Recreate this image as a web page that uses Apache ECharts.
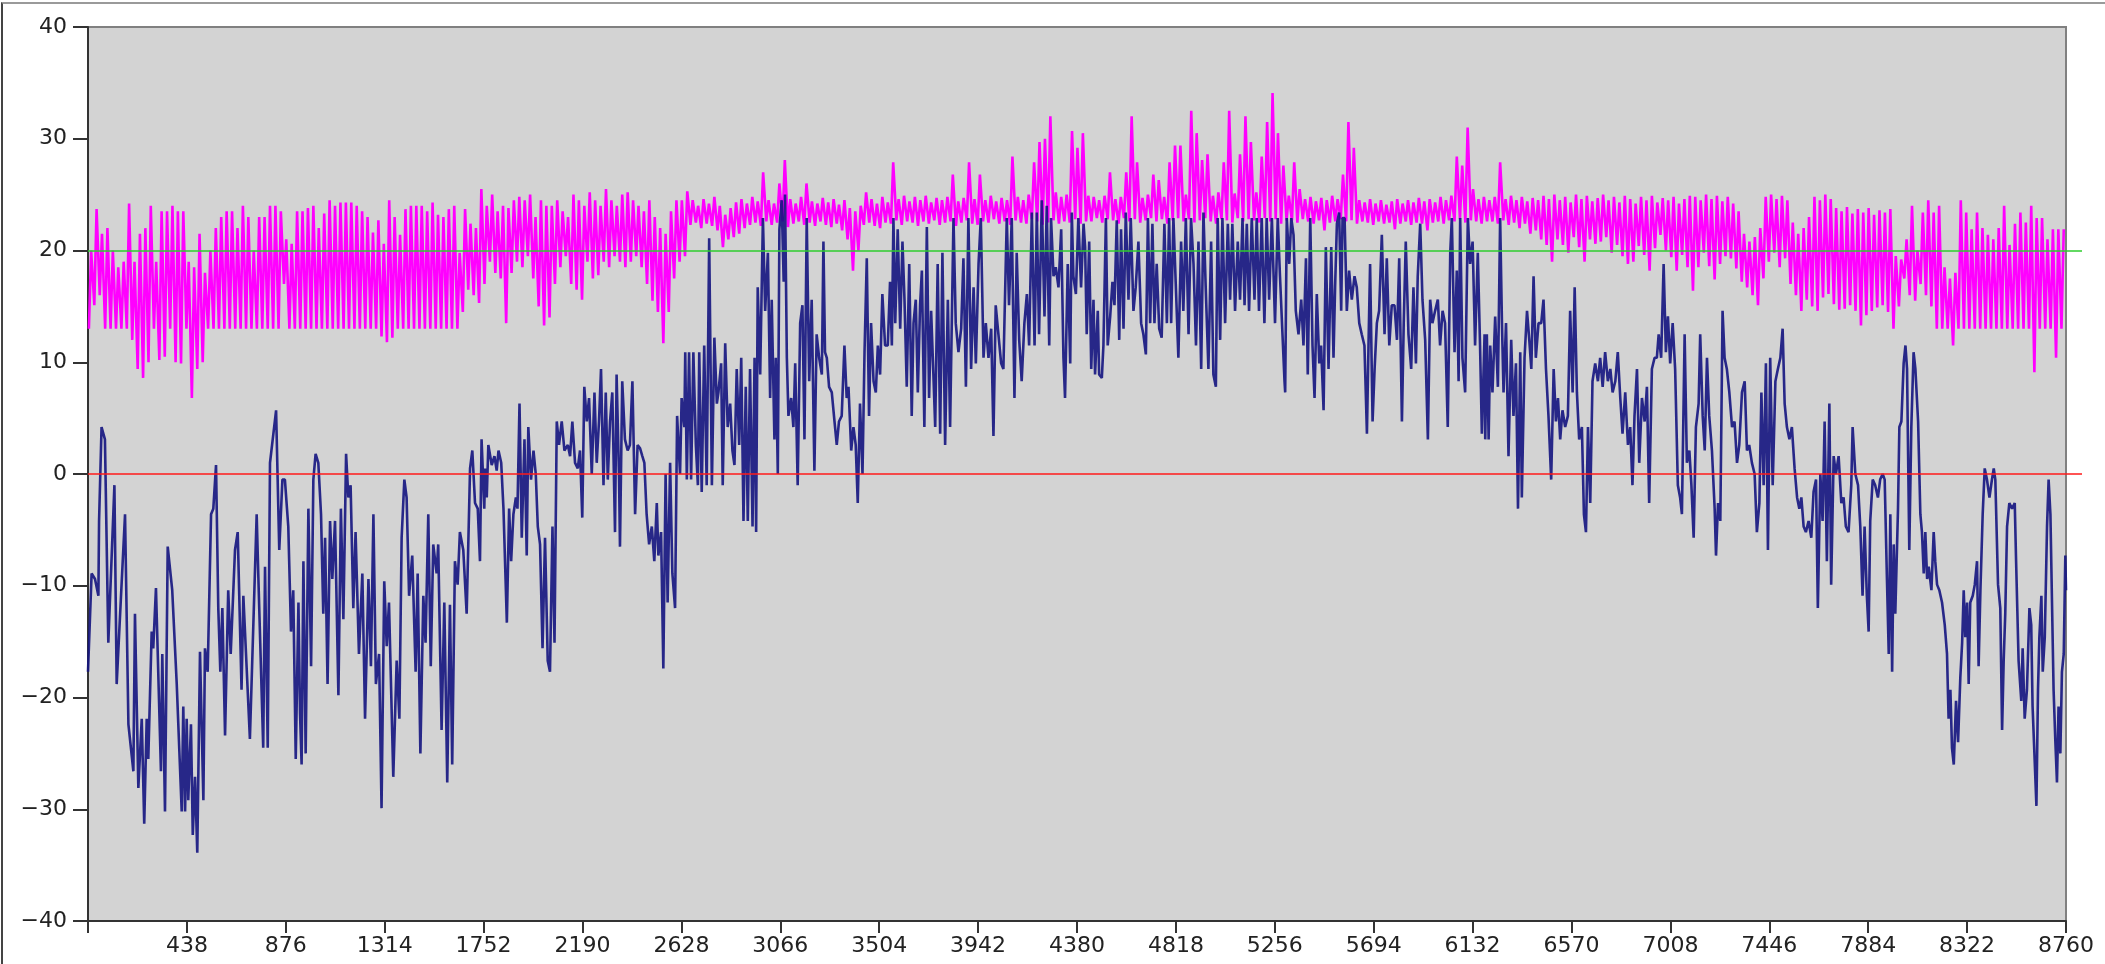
<!DOCTYPE html>
<html>
<head>
<meta charset="utf-8">
<script src="https://cdn.jsdelivr.net/npm/echarts@6/dist/echarts.min.js"></script>
<style>
  html, body { margin: 0; padding: 0; background: #fff; }
  #chart { width: 2105px; height: 964px; }
  #frame {
    position: absolute; top: 2px; left: 1px; right: 0; bottom: 0;
    border-top: 2px solid #9a9a9a; border-left: 2px solid #444;
    pointer-events: none;
  }
</style>
</head>
<body>
<div id="chart"></div>
<div id="frame"></div>
<script>
// hour of year, outdoor temperature (navy line) in pieces
const outdoorJan = [[0,-17.7],[16,-8.9],[31,-9.4],[46,-10.9],[49,-4.2],[60,4.2],[75,3.1],[90,-15.1],[117,-1.0],[127,-18.8],[164,-3.6],[179,-22.4],[201,-26.6],[208,-12.5],[223,-28.1],[238,-21.9],[249,-31.3],[260,-21.9],[267,-25.5],[282,-14.1],[289,-15.6],[301,-10.2],[323,-26.6],[329,-16.1],[341,-30.2],[353,-6.5],[373,-10.4],[393,-18.8],[415,-30.2],[422,-20.8],[430,-30.2],[437,-21.9],[444,-29.2],[456,-22.4],[464,-32.3],[474,-27.1],[484,-33.9],[496,-15.9],[511,-29.2],[518,-15.6],[530,-17.7],[545,-3.6],[555,-3.1],[567,0.8],[577,-12.0],[586,-17.7],[595,-12.0],[607,-23.4],[621,-10.4],[632,-16.1],[651,-6.8],[663,-5.2],[680,-19.3],[688,-10.9],[717,-23.7],[747,-3.6],[754,-8.9],[776,-24.5],[784,-8.3],[796,-24.5],[806,1.0],[833,5.7],[847,-6.8],[861,-0.5]];
const outdoorFeb = [[872,-0.5],[887,-4.7],[899,-14.1],[909,-10.4],[920,-25.5],[932,-11.5],[939,-21.4],[946,-26.0],[954,-7.8],[964,-25.0],[976,-3.1],[988,-17.2],[998,-0.5],[1008,1.8],[1020,1.0],[1032,-3.6],[1042,-12.5],[1050,-5.7],[1061,-18.8],[1072,-4.2],[1082,-9.4],[1094,-4.2],[1109,-19.8],[1120,-3.1],[1131,-13.0],[1143,1.8],[1153,-2.1],[1163,-1.0],[1175,-12.0],[1185,-5.2],[1200,-16.1],[1215,-8.9],[1227,-21.9],[1242,-9.4],[1253,-17.2],[1264,-3.6],[1275,-18.8],[1289,-16.1],[1300,-29.9],[1312,-9.6],[1323,-15.4],[1333,-11.5],[1352,-27.1],[1367,-16.7],[1379,-21.9],[1389,-5.7],[1401,-0.5],[1411,-2.1],[1422,-10.9],[1436,-7.3],[1451,-17.7],[1460,-8.9],[1472,-25.0],[1485,-10.9],[1495,-15.1],[1507,-3.6],[1518,-17.2],[1529,-6.3],[1544,-8.9],[1551,-6.3],[1566,-22.9],[1578,-11.5],[1591,-27.6],[1603,-11.7],[1613,-26.0],[1625,-7.8],[1637,-9.9],[1647,-5.2],[1662,-6.8],[1677,-12.5],[1692,0.5],[1702,2.1],[1714,-2.6],[1726,-3.1],[1736,-7.8],[1743,3.1],[1755,-3.1]];
const outdoorMar = [[1759,0.5],[1766,-2.1],[1773,2.6],[1788,0.8],[1800,1.6],[1810,0.3],[1818,2.1],[1830,1.0],[1840,-3.1],[1855,-13.3],[1865,-3.1],[1874,-7.8],[1884,-3.6],[1895,-2.1],[1902,-3.1],[1911,6.3],[1921,-5.7],[1933,3.1],[1943,-7.3],[1950,4.2],[1962,-0.5],[1973,2.1],[1983,0],[1992,-4.7],[2002,-6.3],[2013,-15.6],[2024,-5.7],[2036,-16.7],[2046,-17.7],[2057,-4.7],[2066,-15.1],[2076,4.7],[2086,2.6],[2098,4.7],[2110,2.1],[2125,2.6],[2135,1.6],[2145,4.7],[2157,1.0],[2169,0.5],[2179,2.1],[2189,-3.9],[2198,7.8],[2209,4.7],[2219,6.8],[2231,0],[2243,7.3],[2253,1.0],[2263,4.7],[2272,9.4],[2283,-1.0],[2293,7.3],[2302,-0.5],[2312,4.7],[2322,7.3],[2334,-5.2],[2341,8.9],[2352,-0.5],[2356,-6.5],[2366,8.3],[2378,3.1],[2390,2.1],[2400,2.6],[2411,8.3],[2423,-3.6],[2434,2.6],[2445,2.3],[2455,1.6],[2464,1.0],[2474,-3.6],[2485,-6.3],[2497,-4.7],[2508,-7.8],[2519,-2.6],[2526,-7.3],[2538,-5.2],[2548,-17.4],[2558,0],[2567,-11.5],[2578,1.0],[2588,-8.9],[2600,-12.0],[2609,5.2],[2622,0],[2629,6.8],[2641,4.2]];
const outdoorApr = [[2645,10.9],[2652,-0.5],[2662,10.9],[2671,-0.5],[2681,10.9],[2692,2.6],[2701,-1.0],[2707,10.9],[2718,-1.6],[2729,11.5],[2740,-1.0],[2751,21.1],[2763,-1.0],[2774,12.2],[2785,6.3],[2792,7.3],[2804,9.9],[2811,-1.0],[2822,11.7],[2833,4.2],[2844,6.3],[2854,2.1],[2863,0.8],[2873,9.4],[2884,2.6],[2893,10.4],[2903,-4.2],[2913,7.8],[2922,-4.2],[2932,9.4],[2943,-4.7],[2952,10.4],[2959,-5.2],[2966,16.7],[2977,8.9],[2989,22.9],[2999,14.6],[3011,19.8],[3021,6.8],[3028,15.6],[3040,3.1],[3046,10.4],[3055,0],[3062,21.9],[3072,24.5],[3081,17.2],[3087,25],[3095,10.4],[3102,5.2],[3114,6.8],[3124,4.2],[3132,9.9],[3143,-1.0],[3154,13.5],[3164,15.1],[3173,3.1],[3183,22.9],[3194,8.3],[3205,15.6],[3217,0.3],[3227,12.5],[3238,10.4],[3250,8.9],[3257,20.8],[3264,10.9],[3272,10.4],[3282,7.8],[3294,7.3],[3306,4.7],[3316,2.6],[3326,4.7],[3338,5.2],[3350,11.5],[3360,6.8],[3368,7.8],[3380,2.1],[3390,4.2],[3400,2.6],[3409,-2.6],[3419,6.3],[3430,0],[3439,10.9],[3449,19.3],[3459,5.2],[3468,13.5],[3479,8.3],[3489,7.3],[3498,11.5],[3508,8.9],[3518,16.1]];
const outdoorMay = [[3530,11.5],[3542,11.5],[3552,17.2],[3560,11.5],[3567,22.9],[3575,13.5],[3586,21.9],[3597,13.0],[3607,20.8],[3616,15.6],[3626,7.8],[3637,18.8],[3648,5.2],[3656,13.5],[3666,15.6],[3675,7.3],[3685,15.1],[3693,18.2],[3704,4.2],[3715,22.1],[3725,6.8],[3734,14.6],[3744,8.9],[3752,4.2],[3763,18.8],[3774,3.6],[3784,19.8],[3796,2.6],[3808,15.6],[3818,4.2],[3833,22.9],[3843,13.5],[3855,10.9],[3867,13.0],[3877,19.3],[3888,7.8],[3899,22.9],[3911,9.4],[3922,16.7],[3932,9.9],[3944,18.8],[3954,22.9],[3966,10.4],[3976,13.5],[3988,10.4],[4000,13.0],[4010,3.4],[4020,15.1],[4032,12.5],[4044,9.9],[4054,9.4],[4069,22.9],[4079,15.1],[4091,22.9],[4103,6.8],[4113,19.8],[4124,12.0],[4135,8.3],[4147,13.5],[4158,16.1],[4168,11.5],[4180,23.4],[4192,11.5],[4202,23.4],[4212,12.5],[4224,24.5],[4236,14.1],[4246,24.0],[4257,11.5],[4265,22.9],[4276,17.7],[4286,18.5],[4298,16.7],[4310,21.9],[4320,10.4],[4327,6.8],[4339,18.8],[4350,9.9],[4357,23.4],[4364,17.7],[4375,16.1],[4386,22.9],[4398,16.7],[4409,22.4]];
const outdoorJun = [[4416,20.3],[4423,12.5],[4434,20.8],[4443,9.4],[4453,15.6],[4460,8.9],[4472,14.6],[4478,8.9],[4490,8.6],[4497,11.5],[4508,22.9],[4516,11.5],[4527,14.1],[4537,17.2],[4546,15.1],[4556,22.7],[4567,12.0],[4575,21.9],[4586,13.0],[4596,23.4],[4608,15.6],[4618,22.9],[4630,14.6],[4640,16.7],[4652,20.8],[4664,13.5],[4674,12.5],[4685,10.7],[4694,22.9],[4704,13.5],[4714,22.4],[4723,13.5],[4733,18.8],[4744,13.0],[4755,12.2],[4767,22.4],[4778,13.5],[4788,22.9],[4797,13.5],[4807,22.9],[4817,17.2],[4829,10.4],[4841,20.8],[4851,14.6],[4862,22.9],[4874,12.5],[4885,22.9],[4896,18.8],[4907,11.5],[4918,20.8],[4930,9.4],[4940,23.4],[4950,16.7],[4962,9.4],[4974,20.8],[4984,8.9],[4995,7.8],[5003,22.9],[5014,12.0],[5024,22.9],[5036,13.5],[5048,22.4],[5058,15.6],[5068,22.4],[5080,14.6],[5092,20.8],[5102,15.6],[5113,22.9],[5122,15.1],[5132,22.4],[5142,14.6],[5154,22.9],[5166,15.6],[5176,22.9],[5186,14.6],[5198,22.9],[5210,13.5],[5220,22.9],[5231,15.6],[5243,22.9],[5257,13.5],[5269,22.9],[5279,17.7],[5290,12.5],[5299,8.3]];
const outdoorAug = [[5302,7.3],[5309,22.9],[5320,18.8],[5329,22.9],[5339,21.4],[5349,14.6],[5361,12.5],[5373,15.6],[5383,11.5],[5394,19.3],[5402,8.9],[5413,22.9],[5423,11.5],[5432,6.8],[5442,16.1],[5453,9.9],[5461,11.5],[5472,5.7],[5482,20.3],[5494,9.4],[5506,20.3],[5516,10.4],[5523,16.7],[5531,22.4],[5541,23.4],[5550,14.6],[5556,22.9],[5565,22.9],[5575,14.6],[5585,18.2],[5597,15.6],[5609,17.7],[5619,16.7],[5630,13.5],[5641,12.5],[5653,11.5],[5664,3.6],[5671,11.5],[5678,18.8],[5689,4.7],[5698,9.4],[5708,13.5],[5718,14.6],[5730,21.4],[5742,12.5],[5752,19.3],[5763,11.5],[5774,15.1],[5786,15.1],[5797,12.0],[5807,19.3],[5819,4.7],[5827,13.5],[5836,20.8],[5848,12.5],[5860,9.4],[5870,16.7],[5881,9.9],[5889,17.7],[5900,22.4],[5910,15.6],[5922,12.0],[5934,3.1],[5944,15.6],[5954,13.5],[5966,14.6],[5978,15.6],[5988,11.5],[5999,14.6],[6010,13.5],[6022,4.2],[6033,19.8],[6040,22.9],[6052,10.9],[6062,18.2],[6070,8.3],[6077,22.9],[6087,10.4],[6099,7.3],[6111,22.9],[6121,18.8],[6132,20.8],[6143,11.5],[6155,19.8],[6165,11.5],[6173,3.6],[6185,12.5]];
const outdoorSep = [[6188,3.1],[6195,12.5],[6203,3.1],[6210,11.5],[6220,7.3],[6232,14.1],[6244,7.8],[6254,22.9],[6262,13.5],[6269,7.3],[6280,13.5],[6291,1.6],[6303,12.0],[6313,5.2],[6324,9.9],[6333,-3.1],[6343,10.9],[6350,-2.1],[6362,10.4],[6373,14.6],[6383,12.0],[6392,9.4],[6402,17.7],[6412,10.4],[6424,13.5],[6436,13.5],[6446,15.6],[6457,9.4],[6468,5.2],[6480,-0.5],[6491,9.4],[6501,4.7],[6510,6.8],[6520,3.1],[6530,5.7],[6542,4.2],[6554,5.2],[6564,14.6],[6575,7.3],[6584,16.7],[6594,7.3],[6604,3.1],[6616,4.2],[6625,-3.6],[6634,-5.2],[6643,4.2],[6653,-2.6],[6663,8.3],[6675,9.9],[6687,8.3],[6697,10.4],[6708,7.8],[6719,10.9],[6731,8.3],[6742,9.4],[6752,7.3],[6764,8.3],[6775,10.9],[6786,6.8],[6796,3.6],[6808,7.3],[6820,2.6],[6830,4.2],[6840,-1.0],[6849,5.2],[6860,9.4],[6870,1.0],[6882,6.8],[6894,4.7],[6904,7.8],[6914,-2.6],[6926,9.4],[6938,10.4],[6948,10.4],[6956,12.5],[6967,10.4],[6978,18.8],[6988,10.9],[6997,14.1],[7007,9.9],[7018,13.5],[7029,9.4],[7041,-1.0],[7051,-2.1],[7059,-3.6],[7071,12.5]];
const outdoorNov = [[7081,1.0],[7092,2.1],[7101,-1.0],[7111,-5.7],[7121,4.2],[7133,6.3],[7140,12.5],[7151,5.2],[7160,2.1],[7170,10.4],[7180,5.2],[7192,2.1],[7204,-3.1],[7210,-7.3],[7219,-2.6],[7229,-4.2],[7239,14.6],[7248,10.4],[7258,9.4],[7269,7.3],[7281,4.2],[7292,4.7],[7303,1.0],[7313,2.6],[7325,7.3],[7337,8.3],[7347,2.1],[7357,2.6],[7369,1.0],[7381,0],[7391,-5.2],[7402,-2.6],[7411,7.3],[7421,-1.0],[7431,9.9],[7440,-6.8],[7450,10.4],[7461,-1.0],[7473,8.3],[7484,9.4],[7495,10.4],[7505,13.0],[7514,6.3],[7524,4.2],[7535,3.1],[7546,4.2],[7558,0.5],[7569,-2.1],[7579,-3.1],[7588,-2.1],[7598,-4.7],[7608,-5.2],[7620,-4.2],[7632,-5.7],[7642,-1.6],[7653,-0.5],[7661,-12.0],[7672,0],[7682,-4.2],[7691,4.7],[7701,-7.8],[7712,6.3],[7720,-9.9],[7731,1.6],[7741,0],[7753,1.6],[7765,-2.6],[7775,-2.1],[7785,-4.7],[7797,-5.2],[7809,-1.0],[7815,4.2],[7827,0],[7839,-1.0],[7849,-4.7],[7859,-10.9],[7868,-4.7],[7878,-10.9],[7886,-14.1],[7893,-4.2],[7904,-0.5],[7915,-1.0],[7927,-2.1],[7937,-0.5],[7948,0],[7957,-0.5]];
const outdoorDec = [[7967,-9.4],[7975,-16.1],[7982,-3.6],[7990,-17.7],[7997,-6.3],[8004,-12.5],[8016,-3.1],[8022,4.2],[8031,4.7],[8041,9.9],[8049,11.5],[8056,9.4],[8066,-6.8],[8075,4.2],[8085,10.9],[8093,9.4],[8105,4.7],[8115,-3.6],[8122,-5.2],[8130,-8.9],[8137,-5.2],[8145,-9.4],[8152,-8.3],[8164,-10.4],[8174,-5.2],[8181,-7.8],[8189,-9.9],[8199,-10.4],[8211,-11.5],[8223,-13.5],[8233,-16.1],[8240,-21.9],[8248,-19.3],[8255,-24.5],[8263,-26.0],[8273,-20.3],[8282,-24.0],[8292,-18.2],[8300,-15.1],[8307,-10.4],[8314,-14.6],[8322,-11.5],[8329,-18.8],[8336,-11.5],[8347,-10.9],[8356,-9.9],[8366,-7.8],[8373,-17.2],[8381,-10.4],[8391,-3.6],[8400,0.5],[8410,-0.5],[8421,-2.1],[8432,-0.5],[8440,0.5],[8447,-0.5],[8459,-9.9],[8469,-12.0],[8477,-22.9],[8484,-16.7],[8491,-12.5],[8499,-4.7],[8509,-2.6],[8521,-3.1],[8533,-2.6],[8539,-7.8],[8550,-16.7],[8562,-20.3],[8568,-15.6],[8577,-21.9],[8587,-19.3],[8598,-12.0],[8606,-13.5],[8612,-20.8],[8621,-25.5],[8629,-29.7],[8636,-19.3],[8642,-14.6],[8651,-10.9],[8657,-17.7],[8666,-14.6],[8676,-4.7],[8683,-0.5],[8691,-3.6],[8698,-11.5],[8705,-19.3],[8713,-24.0],[8720,-27.6],[8727,-20.8],[8735,-25.0],[8742,-17.7],[8750,-16.1],[8757,-7.3],[8760,-10.4]];

// indoor temperature (magenta line): daily peak and daily low, day 0..364
const indoorHigh = [
  20,23.7,21.5,22,20,18.5,19,24.2,19,21.5,22,24,19,23.5,23.5,24,23.5,23.5,19,18.5,21.5,18,20,22,23,23.5,23.5,22,24,23,20,23,23,24,24,23.5,21,
  20.6,23.5,23.5,23.8,24,22,23.3,24.5,24,24.3,24.3,24.3,24,23.5,23,21.6,22.7,20.6,24.5,23,21.4,23.7,24,24,24,23.5,24.3,23.2,23,23.7,24,19.8,23.7,22.4,22,25.5,24,
  25,23.5,24,23.8,24.5,24.8,24.5,25,23,24.5,24,24,24.5,23.5,23,25,24.5,24,25.2,24.5,24,25.5,24.5,24,25,25.2,24.5,24,23.5,24.5,23,22,21.5,23.5,24.5,24.5,25.3,
  24.5,24,24.6,24.2,24.8,24,23.2,23.8,24.3,24.6,24.2,24.8,24.4,27,24.5,24.2,26,28.1,24.6,24.2,24.8,26,24.4,24.2,24.7,24.3,24.6,24.1,24.5,23.8,23.5,24,25.2,24.6,24.2,24.8,24.3,
  27.9,24.6,24.9,24.4,24.8,24.5,24.9,24.3,24.7,24.5,24.8,26.8,24.4,24.7,27.9,24.6,26.8,24.5,24.9,24.4,24.7,24.5,28.4,24.8,24.5,25,27.9,29.7,30,32,25.2,24.8,25,30.7,29.2,30.5,24.9,
  24.8,24.5,24.9,27,24.6,24.8,27,32,27.9,24.7,25,26.8,26.3,24.8,27.9,29.4,29.4,25,32.5,30.5,28.1,28.6,24.9,25.2,27.9,32.5,25.1,28.6,32,29.7,25.2,28.4,31.5,34.1,30.5,27.6,24.9,
  27.9,25.5,24.6,24.8,24.4,24.7,24.5,24.9,24.6,26.8,31.5,29.2,24.5,24.3,24.6,24.2,24.5,24.1,24.4,24.6,24.2,24.5,24.3,24.7,24.4,24.6,24.3,24.8,24.5,24.9,28.4,27.6,31,25.5,24.6,24.8,24.5,
  24.8,27.9,24.6,24.9,24.5,24.8,24.4,24.7,24.5,24.9,24.6,25,24.5,24.8,24.3,25,24.6,24.9,24.4,24.7,25,24.5,24.8,24.3,24.9,24.6,24.2,24.8,24.5,24.9,24.3,24.7,24.5,24.8,24.2,24.6,24.9,
  24.8,24.5,25,24.6,24.9,24.4,24.8,24.2,23.5,21.5,20.8,21.2,22,24.8,25,24.6,24.9,24.5,22.5,21.5,22,23,24.8,24.5,25,24.6,23.8,23.5,23.9,23.3,23.7,23.4,23.8,23.2,23.6,23.4,23.7,
  19.5,19.2,21,24,20,23.4,24.5,23.4,24,18.5,17.5,18,24.5,23.4,21.9,23.4,22,21.4,21,22,24,20.5,22.4,23.4,22.5,24,22.9,22.9,21,21.9,21.9,21.9
];
const indoorLow = [
  13,15.1,16,13,13,13,13,13,12,9.4,8.6,10,13,10.2,10.5,13,10,9.9,13,6.8,9.4,10,13,13,13,13,13,13,13,13,13,13,13,13,13,13,17,
  13,13,13,13,13,13,13,13,13,13,13,13,13,13,13,13,13,12.3,11.8,12.2,13,13,13,13,13,13,13,13,13,13,13,13,14.5,16.5,16,15.3,17,
  19,18,17.5,13.5,18,19,18.5,19.5,17.5,15,13.3,14,17,18.5,19.5,17,16.5,15.6,19,17.5,17.8,19,18.5,19.5,19,18.5,19,19.5,18.5,17,15.5,14.5,11.7,14.5,17.5,19,19.5,
  22.3,22.5,22,22.4,22.2,21.8,20.3,21,21.2,21.5,22,22.3,22.5,22.2,22.6,22.3,22.5,22.6,22.1,22.4,22.6,22.3,22.5,22.2,22.6,22.3,22.1,22.4,21.8,21,18.2,20,22.3,22.5,22.2,22,22.5,
  22.4,22.7,22.3,22.6,22.5,22.2,22.6,22.4,22.7,22.3,22.5,22.6,22.2,22.5,22.7,22.4,22.3,22.6,22.5,22.8,22.4,22.6,22.3,22.7,22.5,22.4,22.8,22.6,22.3,22.5,22.7,22.4,22.6,22.5,22.8,22.4,22.6,
  22.6,22.9,22.5,22.8,22.7,22.4,22.9,22.6,22.8,22.5,22.7,22.9,22.6,22.8,22.4,22.7,22.9,22.6,22.8,22.5,22.7,22.9,22.6,22.4,22.8,22.7,22.5,22.9,22.6,22.8,22.7,22.5,22.9,22.6,22.8,22.4,22.7,
  22.7,22.5,22.8,22.6,22.4,22.7,21.8,22.5,22.6,22.8,22.6,22.7,22.4,22.6,22.5,22.3,22.6,22.4,22.5,21.9,22.4,22.6,22.3,22.5,22.4,21.8,22.5,22.6,22.4,22.7,22.6,22.8,22.5,22.7,22.6,22.4,22.6,
  22.6,22.4,22.7,22.3,22.5,22,22.4,21.5,21.8,21,20.5,19,21,20.5,19.8,21.2,20.3,19,21,20.6,20.8,21.2,19.8,20.5,19.5,18.8,19,20.4,19.6,18.2,20.2,21.4,20,19.4,18.2,19.6,18.5,
  16.4,18.5,19.8,18.6,17.4,18.8,19.5,19.3,18.4,17.2,16.7,16,15.1,17.5,19,19.8,18.5,19.3,17,16,14.6,15.6,15,14.6,15.8,16.1,15.2,14.7,14.8,15.1,14.6,13.3,14.2,14.6,14.9,15.1,14.5,
  13,15,17.5,16,15.5,17,16,15,13,13,13,11.5,13,13,13,13,13,13,13,13,13,13,13,13,13,13,9.1,13,13,13,10.4,13
];

const refLevels = [20, 0];           // green comfort line, red freezing line
const refColors = ['#2ecc2e', '#ff1a1a'];
const xTicks = { min: 0, max: 8760, step: 438 };
const yTicks = { min: -40, max: 40, step: 10 };

const outdoor = [].concat(outdoorJan, outdoorFeb, outdoorMar, outdoorApr, outdoorMay,
  outdoorJun, outdoorAug, outdoorSep, outdoorNov, outdoorDec);

const indoor = [];
for (let d = 0; d < indoorHigh.length; d++) {
  indoor.push([d * 24 + 4, indoorLow[d]]);
  indoor.push([d * 24 + 14, indoorHigh[d]]);
}

const chart = echarts.init(document.getElementById('chart'));
const labelFont = { fontFamily: 'DejaVu Sans', fontSize: 22, color: '#222' };

chart.setOption({
  animation: false,
  backgroundColor: '#fff',
  grid: [
    { left: 88, right: 39, top: 27, bottom: 43, show: true,
      backgroundColor: '#d3d3d3', borderColor: '#808080', borderWidth: 2 },
    { left: 88, right: 23, top: 27, bottom: 43, show: false }
  ],
  xAxis: [
    {
      type: 'value', gridIndex: 0,
      min: xTicks.min, max: xTicks.max, interval: xTicks.step,
      axisLine: { show: true, onZero: false, lineStyle: { color: '#333', width: 2 } },
      axisTick: { show: true, length: 12, lineStyle: { color: '#333', width: 2 } },
      axisLabel: Object.assign({ margin: 14, formatter: v => v === 0 ? '' : String(v) }, labelFont),
      splitLine: { show: false }
    },
    { type: 'value', gridIndex: 1, min: 0, max: 1, show: false }
  ],
  yAxis: [
    {
      type: 'value', gridIndex: 0,
      min: yTicks.min, max: yTicks.max, interval: yTicks.step,
      axisLine: { show: true, onZero: false, lineStyle: { color: '#333', width: 2 } },
      axisTick: { show: true, length: 15, lineStyle: { color: '#333', width: 2 } },
      axisLabel: Object.assign({ margin: 21,
        formatter: v => v < 0 ? '\u2212' + Math.abs(v) : String(v) }, labelFont),
      splitLine: { show: false }
    },
    { type: 'value', gridIndex: 1, min: yTicks.min, max: yTicks.max, show: false }
  ],
  series: [
    {
      // reference levels, they run a bit past the plot on the right
      type: 'line', xAxisIndex: 1, yAxisIndex: 1, data: [], z: 1,
      markLine: {
        silent: true, symbol: 'none', animation: false,
        label: { show: false },
        data: refLevels.map((v, i) => ({ yAxis: v, lineStyle: { color: refColors[i], width: 1.5, type: 'solid' } }))
      }
    },
    {
      name: 'indoor', type: 'line', data: indoor, z: 2,
      showSymbol: false, symbol: 'none',
      lineStyle: { color: '#ff00ff', width: 2.6 }
    },
    {
      name: 'outdoor', type: 'line', data: outdoor, z: 3,
      showSymbol: false, symbol: 'none',
      lineStyle: { color: '#14147f', width: 2.6, opacity: 0.9 }
    }
  ]
});
</script>
</body>
</html>
